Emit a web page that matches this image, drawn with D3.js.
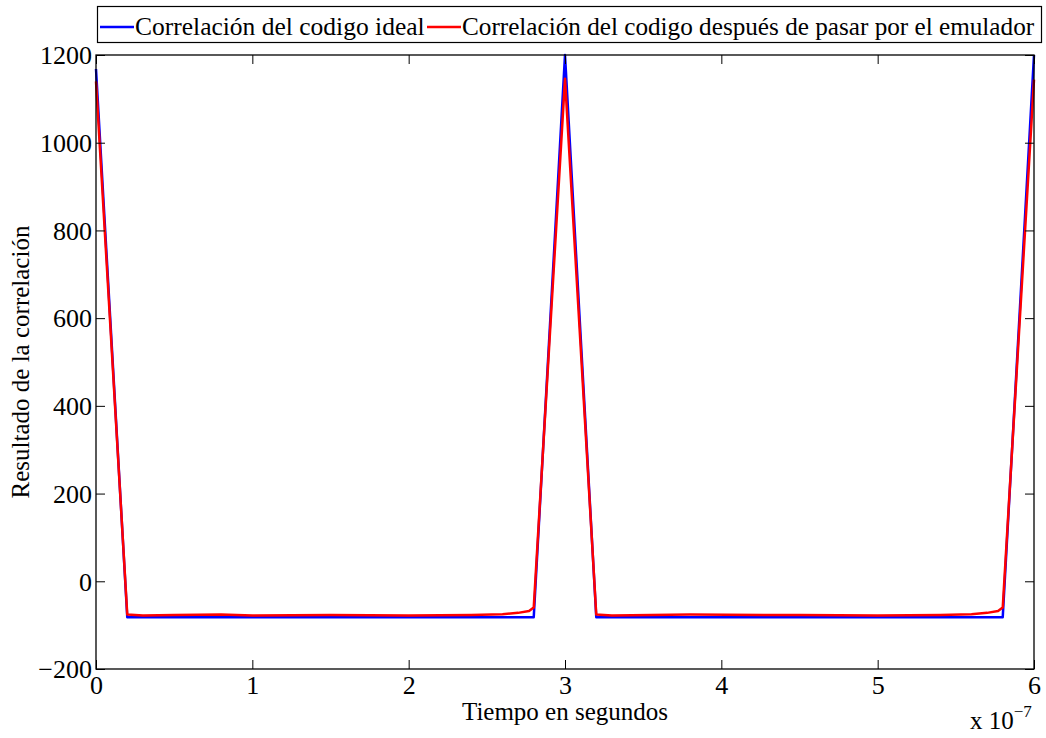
<!DOCTYPE html>
<html>
<head>
<meta charset="utf-8">
<script src="https://cdn.jsdelivr.net/npm/d3@7"></script>
<style>
  body { margin: 0; background: #fff; }
  svg text { font-family: "Liberation Serif", "Times New Roman", serif; fill: #000; }
</style>
</head>
<body>
<svg width="1046" height="738"></svg>
<script>
// time in units of 1e-7 s
let xTicks = [0, 1, 2, 3, 4, 5, 6];
let yTicks = [-200, 0, 200, 400, 600, 800, 1000, 1200];

// ideal code correlation
let idealT = [0, 0.2, 2.8, 3.0, 3.2, 5.8, 6.0];
let idealV = [1168, -82, -82, 1200, -82, -82, 1200];

// correlation after the emulator
let emuT = [0, 0.2, 0.3, 0.5, 0.8, 1.0, 1.5, 2.0, 2.4, 2.6, 2.7, 2.77, 2.8, 3.0,
            3.2, 3.3, 3.8, 4.5, 5.0, 5.4, 5.6, 5.7, 5.77, 5.8, 6.0];
let emuV = [1140, -76, -78, -77, -76, -78, -77, -78, -77, -75, -72, -68, -60, 1146,
            -76, -78, -76, -77, -78, -77, -75, -72, -68, -60, 1144];

let legendLabels = ["Correlación del codigo ideal",
                    "Correlación del codigo después de pasar por el emulador"];
let colors = ["#0000ff", "#ff0000"];

let svg = d3.select("svg");

let margin = { top: 55, right: 12, bottom: 69, left: 96 };
let plotWidth = 1046 - margin.left - margin.right;
let plotHeight = 738 - margin.top - margin.bottom;

let x = d3.scaleLinear().domain([0, 6]).range([0, plotWidth]);
let y = d3.scaleLinear().domain([-200, 1200]).range([plotHeight, 0]);

let plot = svg.append("g")
  .attr("transform", "translate(" + margin.left + "," + margin.top + ")");

// series
let line = d3.line().x(d => x(d[0])).y(d => y(d[1]));
let series = [d3.zip(idealT, idealV), d3.zip(emuT, emuV)];

plot.selectAll("path.series")
  .data(series)
  .enter().append("path")
  .attr("class", "series")
  .attr("fill", "none")
  .attr("stroke", (d, i) => colors[i])
  .attr("stroke-width", 2.5)
  .attr("stroke-linejoin", "round")
  .attr("d", line);

// axes with inward ticks on all four sides
let tickLen = 9;
let fmtY = d => d < 0 ? "\u2212" + Math.abs(d) : String(d);

let xAxis = plot.append("g")
  .attr("transform", "translate(0," + plotHeight + ")")
  .call(d3.axisBottom(x).tickValues(xTicks).tickSize(-tickLen).tickPadding(7).tickFormat(d3.format("d")));
let xTop = plot.append("g")
  .call(d3.axisTop(x).tickValues(xTicks).tickSize(-tickLen).tickFormat(""));
let yAxis = plot.append("g")
  .call(d3.axisLeft(y).tickValues(yTicks).tickSize(-tickLen).tickPadding(4).tickFormat(fmtY));
let yRight = plot.append("g")
  .attr("transform", "translate(" + plotWidth + ",0)")
  .call(d3.axisRight(y).tickValues(yTicks).tickSize(-tickLen).tickFormat(""));

[xAxis, xTop, yAxis, yRight].forEach(g => {
  g.select(".domain").remove();
  g.selectAll("line").attr("stroke", "#000").attr("stroke-width", 1);
  g.selectAll("text")
    .style("font-family", "'Liberation Serif', serif")
    .style("font-size", "26px");
});
xAxis.selectAll("text").attr("dy", "0.71em");
yAxis.selectAll("text").attr("dy", "0.34em");

// box
plot.append("rect")
  .attr("width", plotWidth).attr("height", plotHeight)
  .attr("fill", "none").attr("stroke", "#000").attr("stroke-width", 1.3);

// axis labels
svg.append("text")
  .attr("x", margin.left + plotWidth / 2).attr("y", 720)
  .attr("text-anchor", "middle").style("font-size", "25px")
  .text("Tiempo en segundos");

svg.append("text")
  .attr("transform", "translate(29," + (margin.top + plotHeight / 2) + ") rotate(-90)")
  .attr("text-anchor", "middle").style("font-size", "25px")
  .text("Resultado de la correlación");

let mult = svg.append("text")
  .attr("x", 970).attr("y", 729).style("font-size", "25px");
mult.append("tspan").text("x 10");
mult.append("tspan").attr("dy", -12).style("font-size", "17px").text("\u22127");

// legend
let legend = svg.append("g");
legend.append("rect")
  .attr("x", 97.5).attr("y", 6.5).attr("width", 944).attr("height", 36)
  .attr("fill", "#fff").attr("stroke", "#000").attr("stroke-width", 1.2);

let legX = [100, 427];
let legSize = [25.5, 25.2];
legendLabels.forEach((lab, i) => {
  legend.append("line")
    .attr("x1", legX[i]).attr("x2", legX[i] + 34)
    .attr("y1", 27).attr("y2", 27)
    .attr("stroke", colors[i]).attr("stroke-width", 2.5);
  legend.append("text")
    .attr("x", legX[i] + 35).attr("y", 35)
    .style("font-size", legSize[i] + "px")
    .text(lab);
});
</script>
</body>
</html>
